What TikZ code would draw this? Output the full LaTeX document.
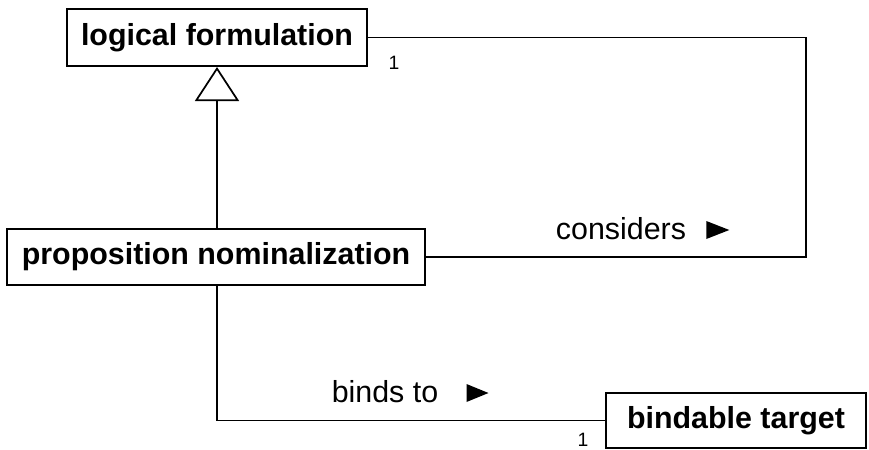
\documentclass[tikz,border=0pt]{standalone}
\usepackage{fontspec}
\setmainfont{Liberation Sans}
\usetikzlibrary{positioning,calc,arrows.meta}

\tikzset{
    classbox/.style={draw, line width=1.5pt, inner sep=0pt, font=\fontsize{22.8}{26}\selectfont\bfseries},
    assoc/.style={line width=1.3pt},
    rolelabel/.style={font=\fontsize{22.8}{26}\selectfont, inner sep=0pt, anchor=base},
    multlabel/.style={font=\fontsize{14.5}{16}\selectfont, inner sep=0pt}
}

\begin{document}
\begin{tikzpicture}[x=0.75pt,y=-0.75pt]
    \useasboundingbox (0,0) rectangle (869,450);
    % Classes
    \node[classbox, minimum width=300*0.75pt, minimum height=57*0.75pt] (LF) at (217,37.5) {logical formulation};
    \node[classbox, minimum width=418*0.75pt, minimum height=56*0.75pt] (PN) at (216,257) {proposition nominalization};
    \node[classbox, minimum width=260*0.75pt, minimum height=55*0.75pt] (BT) at (736,420.5) {bindable target};

    % Generalization
    \draw[assoc, -{Triangle[open, length=34*0.75pt, width=44*0.75pt, line width=1.3pt]}] (PN.north -| LF.south) -- (LF.south);

    % considers
    \coordinate (corner) at (806,257);
    \draw[assoc] (PN.east) -- (corner) |- (LF.east);
    \node[multlabel] (LFmult) at (394,63) {1};
    \node[rolelabel] (cons) at (621,239) {considers};
    \fill ($(cons.base east)+(20,0)$) -- ++(0,-18) -- ++(23,9) -- cycle; % direction mark

    % binds to
    \draw[assoc] (PN.south -| LF.south) |- (BT.west);
    \node[rolelabel] (binds) at (385,402) {binds to};
    \fill ($(binds.base east)+(28,0)$) -- ++(0,-18) -- ++(22,9) -- cycle;
    \node[multlabel] (BTmult) at (583,440) {1};
\end{tikzpicture}
\end{document}
